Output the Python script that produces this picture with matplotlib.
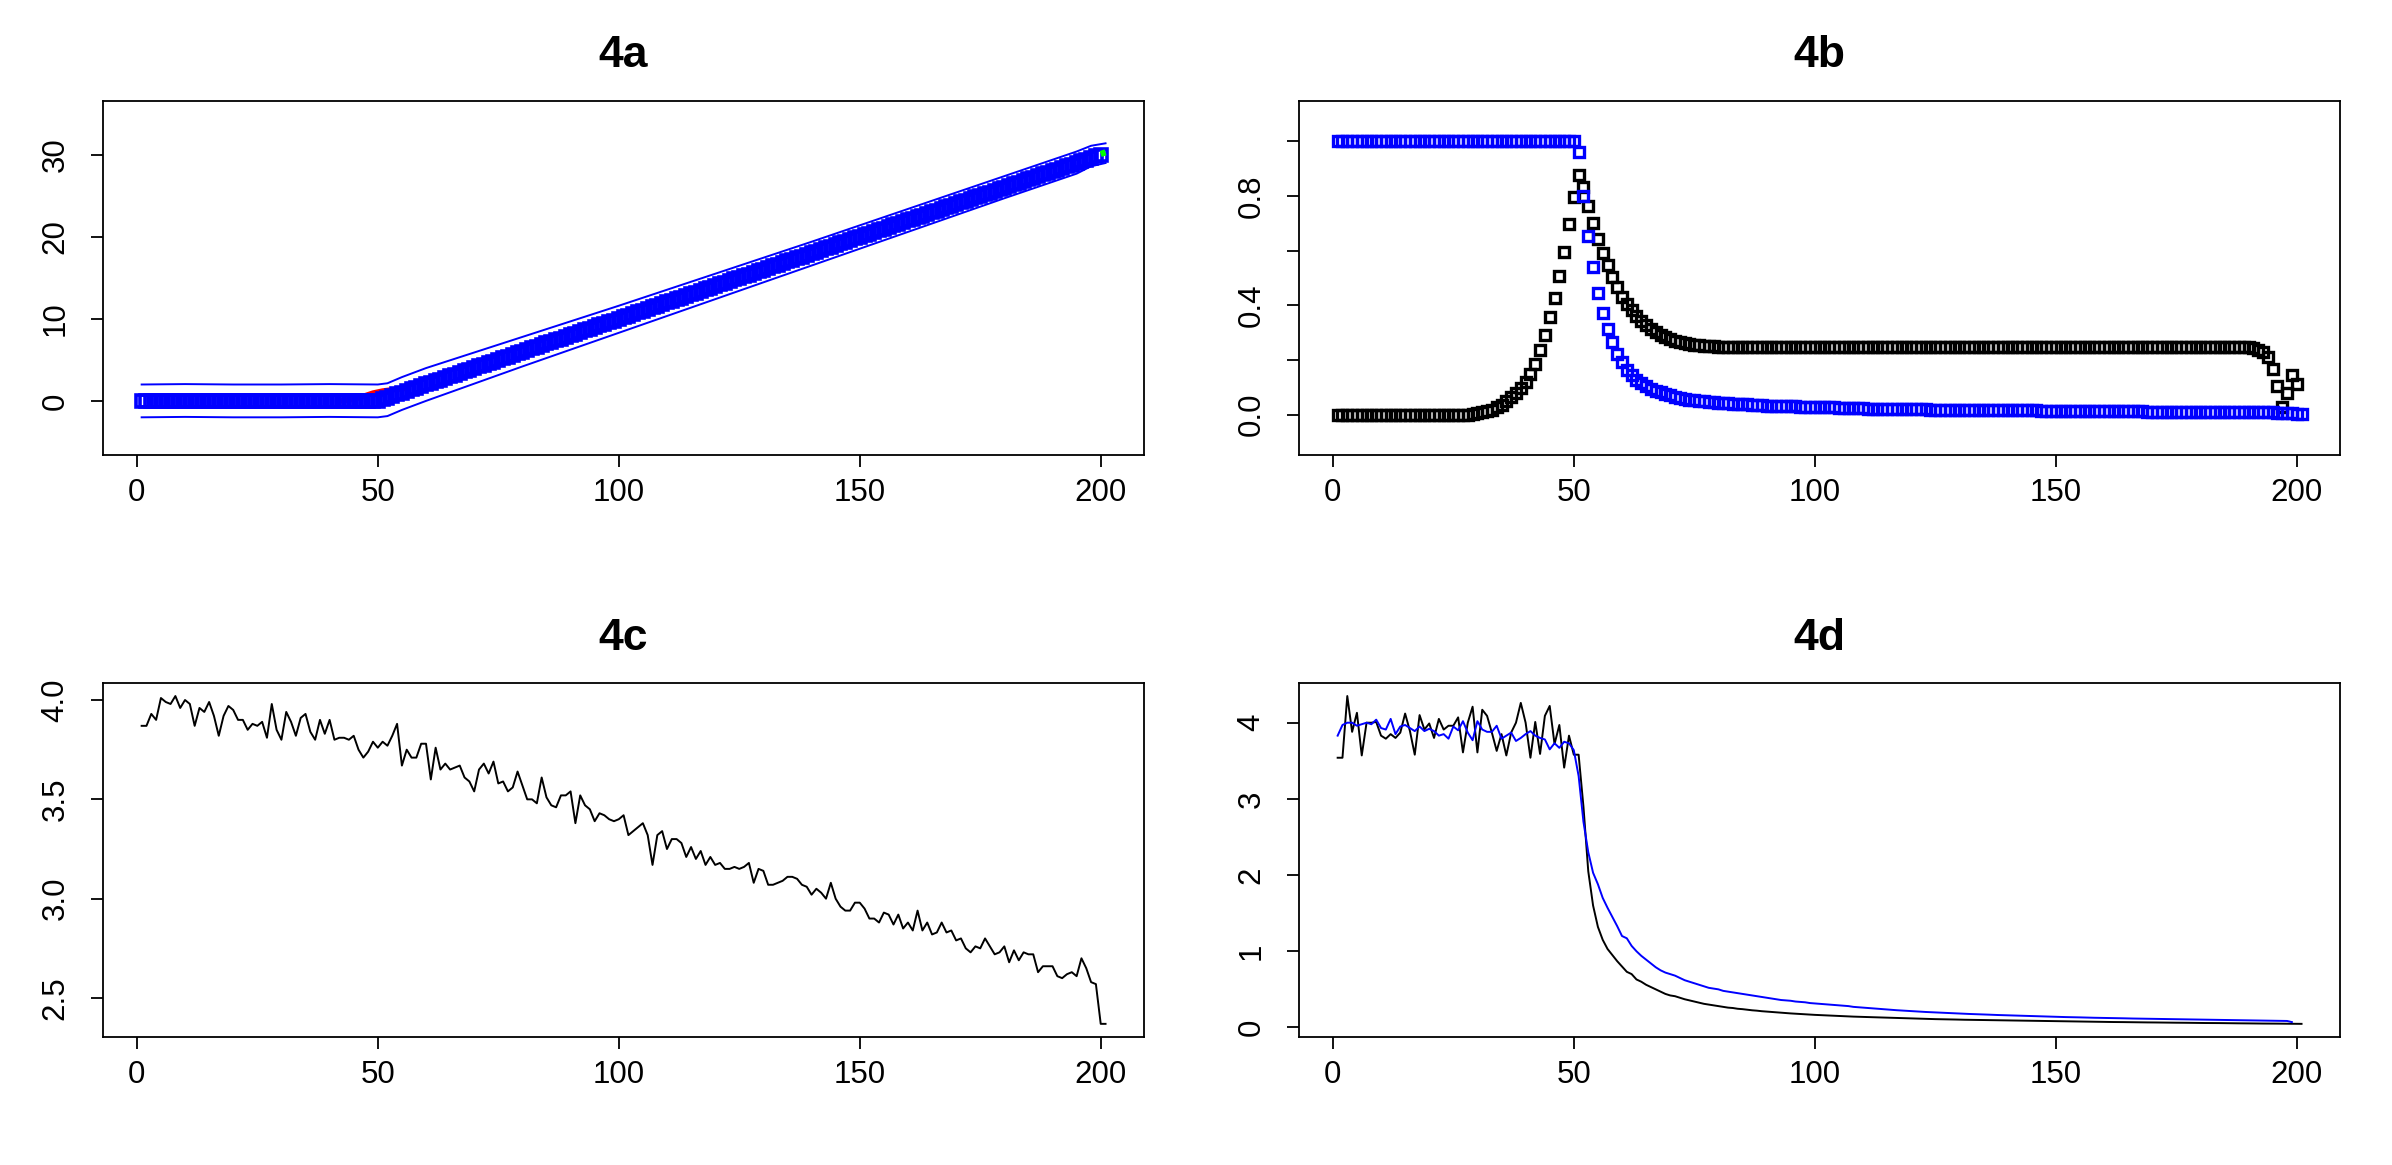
import numpy as np
import matplotlib.pyplot as plt

plt.rcParams['font.family'] = ['Liberation Sans', 'DejaVu Sans']

# ---------------- data ----------------
# 4a: fitted points (x = 1..200), the band around them, true curve near the bend, last point
a_fit = [
    0.0, 0.0, 0.0, 0.0, 0.0, 0.0, 0.0, 0.0, 0.0, 0.0,
    0.0, 0.0, 0.0, 0.0, 0.0, 0.0, 0.0, 0.0, 0.0, 0.0,
    0.0, 0.0, 0.0, 0.0, 0.0, 0.0, 0.0, 0.0, 0.0, 0.0,
    0.0, 0.0, 0.0, 0.0, 0.0, 0.0, 0.0, 0.0, 0.0, 0.0,
    0.0, 0.0, 0.0, 0.0, 0.0, 0.0, 0.0, 0.0, 0.0, 0.0,
    0.2, 0.4, 0.6, 0.8, 1.0, 1.2, 1.4, 1.6, 1.8, 2.0,
    2.2, 2.4, 2.6, 2.8, 3.0, 3.2, 3.4, 3.6, 3.8, 4.0,
    4.2, 4.4, 4.6, 4.8, 5.0, 5.2, 5.4, 5.6, 5.8, 6.0,
    6.2, 6.4, 6.6, 6.8, 7.0, 7.2, 7.4, 7.6, 7.8, 8.0,
    8.2, 8.4, 8.6, 8.8, 9.0, 9.2, 9.4, 9.6, 9.8, 10.0,
    10.2, 10.4, 10.6, 10.8, 11.0, 11.2, 11.4, 11.6, 11.8, 12.0,
    12.2, 12.4, 12.6, 12.8, 13.0, 13.2, 13.4, 13.6, 13.8, 14.0,
    14.2, 14.4, 14.6, 14.8, 15.0, 15.2, 15.4, 15.6, 15.8, 16.0,
    16.2, 16.4, 16.6, 16.8, 17.0, 17.2, 17.4, 17.6, 17.8, 18.0,
    18.2, 18.4, 18.6, 18.8, 19.0, 19.2, 19.4, 19.6, 19.8, 20.0,
    20.2, 20.4, 20.6, 20.8, 21.0, 21.2, 21.4, 21.6, 21.8, 22.0,
    22.2, 22.4, 22.6, 22.8, 23.0, 23.2, 23.4, 23.6, 23.8, 24.0,
    24.2, 24.4, 24.6, 24.8, 25.0, 25.2, 25.4, 25.6, 25.8, 26.0,
    26.2, 26.4, 26.6, 26.8, 27.0, 27.2, 27.4, 27.6, 27.8, 28.0,
    28.2, 28.4, 28.6, 28.8, 29.0, 29.2, 29.4, 29.6, 29.8, 30.0,
]
a_band_x = [1, 10, 20, 30, 40, 50, 52, 55, 60, 80, 100, 120, 140, 160, 180, 195, 198, 201]
a_upper = [2.0, 2.05, 2.0, 2.0, 2.05, 2.0, 2.15, 2.9, 4.0, 7.8, 11.6, 15.5, 19.4, 23.4, 27.4, 30.4, 31.1, 31.4]
a_lower = [-2.0, -1.95, -2.0, -2.0, -1.95, -2.0, -1.85, -1.1, 0.0, 4.2, 8.3, 12.4, 16.5, 20.6, 24.7, 27.7, 28.6, 29.0]
a_true_x = [42, 45, 47, 49, 51, 53, 56]
a_true_y = [0.0, 0.2, 0.55, 0.95, 1.2, 1.35, 1.55]
a_last_x = [200, 201]
a_last_y = [30.1, 30.3]

# 4b: two probability series
b_black = [
    0.0, 0.0, 0.0, 0.0, 0.0, 0.0, 0.0, 0.0, 0.0, 0.0,
    0.0, 0.0, 0.0, 0.0, 0.0, 0.0, 0.0, 0.0, 0.0, 0.0,
    0.0, 0.0, 0.0, 0.0, 0.0, 0.0, 0.0, 0.0,
    0.003, 0.005, 0.008, 0.012, 0.018, 0.026, 0.036, 0.048, 0.064, 0.08,
    0.098, 0.119, 0.149, 0.186, 0.235, 0.29, 0.357, 0.428, 0.506, 0.596,
    0.696, 0.797, 0.877,
    0.834, 0.763, 0.70, 0.641, 0.59, 0.547, 0.504, 0.467, 0.43,
    0.405, 0.382, 0.362, 0.344, 0.328, 0.314, 0.302, 0.292, 0.283, 0.276,
    0.27, 0.265, 0.261, 0.258, 0.255, 0.253, 0.251, 0.25, 0.249, 0.248,
    0.247, 0.247, 0.247, 0.247, 0.247, 0.247, 0.247, 0.247, 0.247, 0.247,
    0.247, 0.247, 0.247, 0.247, 0.247, 0.247, 0.247, 0.247, 0.247, 0.247,
    0.247, 0.247, 0.247, 0.247, 0.247, 0.247, 0.247, 0.247, 0.247, 0.247,
    0.247, 0.247, 0.247, 0.247, 0.247, 0.247, 0.247, 0.247, 0.247, 0.247,
    0.247, 0.247, 0.247, 0.247, 0.247, 0.247, 0.247, 0.247, 0.247, 0.247,
    0.247, 0.247, 0.247, 0.247, 0.247, 0.247, 0.247, 0.247, 0.247, 0.247,
    0.247, 0.247, 0.247, 0.247, 0.247, 0.247, 0.247, 0.247, 0.247, 0.247,
    0.247, 0.247, 0.247, 0.247, 0.247, 0.247, 0.247, 0.247, 0.247, 0.247,
    0.247, 0.247, 0.247, 0.247, 0.247, 0.247, 0.247, 0.247, 0.247, 0.247,
    0.247, 0.247, 0.247, 0.247, 0.247, 0.247, 0.247, 0.247, 0.247, 0.247,
    0.247, 0.247, 0.247, 0.247, 0.247, 0.247, 0.247, 0.247, 0.247, 0.247,
    0.242, 0.235, 0.229, 0.21, 0.168, 0.106, 0.027, 0.078, 0.143, 0.113,
]
b_blue = [
    1.0, 1.0, 1.0, 1.0, 1.0, 1.0, 1.0, 1.0, 1.0, 1.0,
    1.0, 1.0, 1.0, 1.0, 1.0, 1.0, 1.0, 1.0, 1.0, 1.0,
    1.0, 1.0, 1.0, 1.0, 1.0, 1.0, 1.0, 1.0, 1.0, 1.0,
    1.0, 1.0, 1.0, 1.0, 1.0, 1.0, 1.0, 1.0, 1.0, 1.0,
    1.0, 1.0, 1.0, 1.0, 1.0, 1.0, 1.0, 1.0, 1.0, 1.0,
    0.959, 0.798, 0.654, 0.538, 0.443, 0.372, 0.314, 0.265, 0.223, 0.192,
    0.164, 0.145, 0.128, 0.115, 0.104, 0.095, 0.088, 0.081, 0.075, 0.07,
    0.066, 0.062, 0.058, 0.055, 0.052, 0.05, 0.048, 0.046, 0.045, 0.043,
    0.042, 0.041, 0.04, 0.039, 0.038, 0.037, 0.036, 0.035, 0.034, 0.033,
    0.032, 0.032, 0.031, 0.031, 0.03, 0.03, 0.029, 0.029, 0.028, 0.028,
    0.027, 0.027, 0.026, 0.026, 0.025, 0.025, 0.024, 0.024, 0.023, 0.023,
    0.022, 0.022, 0.021, 0.021, 0.021, 0.020, 0.020, 0.020, 0.020, 0.019,
    0.019, 0.019, 0.019, 0.018, 0.018, 0.018, 0.018, 0.018, 0.017, 0.017,
    0.017, 0.017, 0.017, 0.016, 0.016, 0.016, 0.016, 0.016, 0.016, 0.015,
    0.015, 0.015, 0.015, 0.015, 0.015, 0.015, 0.014, 0.014, 0.014, 0.014,
    0.014, 0.014, 0.014, 0.013, 0.013, 0.013, 0.013, 0.013, 0.013, 0.013,
    0.012, 0.012, 0.012, 0.012, 0.012, 0.012, 0.012, 0.012, 0.011, 0.011,
    0.011, 0.011, 0.011, 0.011, 0.011, 0.011, 0.011, 0.010, 0.010, 0.010,
    0.010, 0.010, 0.010, 0.010, 0.010, 0.010, 0.010, 0.009, 0.009, 0.009,
    0.009, 0.009, 0.009, 0.008, 0.008, 0.007, 0.006, 0.005, 0.004, 0.003,
    0.003,
]

# 4c: one noisy series, x = 1..201
c_vals = [
    3.87, 3.87, 3.93, 3.90, 4.01, 3.99, 3.98, 4.02, 3.96, 4.00,
    3.98, 3.87, 3.96, 3.94, 3.99, 3.92, 3.82, 3.92, 3.97, 3.95,
    3.90, 3.90, 3.85, 3.88, 3.87, 3.89, 3.81, 3.98, 3.85, 3.80,
    3.94, 3.89, 3.82, 3.91, 3.93, 3.84, 3.80, 3.90, 3.83, 3.90,
    3.80, 3.81, 3.81, 3.80, 3.82, 3.75, 3.71, 3.74, 3.79, 3.76,
    3.79, 3.77, 3.82, 3.88, 3.67, 3.75, 3.71, 3.71, 3.78, 3.78,
    3.60, 3.76, 3.65, 3.68, 3.65, 3.66, 3.67, 3.61, 3.59, 3.54,
    3.65, 3.68, 3.63, 3.69, 3.58, 3.59, 3.54, 3.56, 3.64, 3.57,
    3.50, 3.50, 3.48, 3.61, 3.51, 3.47, 3.46, 3.52, 3.52, 3.54,
    3.38, 3.52, 3.47, 3.45, 3.39, 3.43, 3.42, 3.40, 3.39, 3.40,
    3.42, 3.32, 3.34, 3.36, 3.38, 3.32, 3.17, 3.32, 3.34, 3.25,
    3.30, 3.30, 3.28, 3.21, 3.26, 3.20, 3.24, 3.17, 3.21, 3.17,
    3.18, 3.15, 3.15, 3.16, 3.15, 3.16, 3.18, 3.08, 3.15, 3.14,
    3.07, 3.07, 3.08, 3.09, 3.11, 3.11, 3.10, 3.07, 3.06, 3.02,
    3.05, 3.03, 3.00, 3.08, 3.00, 2.96, 2.94, 2.94, 2.98, 2.98,
    2.95, 2.90, 2.90, 2.88, 2.93, 2.92, 2.87, 2.92, 2.85, 2.88,
    2.84, 2.94, 2.84, 2.88, 2.82, 2.83, 2.88, 2.83, 2.84, 2.79,
    2.80, 2.75, 2.73, 2.76, 2.75, 2.80, 2.76, 2.72, 2.73, 2.76,
    2.68, 2.74, 2.69, 2.73, 2.72, 2.72, 2.63, 2.66, 2.66, 2.66,
    2.61, 2.60, 2.62, 2.63, 2.61, 2.70, 2.65, 2.58, 2.57, 2.37,
    2.37,
]

# 4d: black series (x = 1..201) and blue series (x = 1..199)
d_black = [
    3.54, 3.54, 4.35, 3.88, 4.13, 3.57, 4.00, 4.00, 4.01, 3.83,
    3.79, 3.85, 3.80, 3.87, 4.12, 3.89, 3.58, 4.10, 3.91, 3.99,
    3.80, 4.05, 3.91, 3.96, 3.96, 4.07, 3.61, 4.00, 4.21, 3.61,
    4.17, 4.09, 3.87, 3.63, 3.85, 3.57, 3.87, 4.00, 4.26, 4.00,
    3.54, 4.01, 3.59, 4.09, 4.22, 3.72, 3.97, 3.41, 3.83, 3.58,
    3.58, 2.90, 2.05, 1.60, 1.32, 1.15, 1.03, 0.95, 0.87, 0.80,
    0.73, 0.70, 0.63, 0.60, 0.56, 0.53, 0.50, 0.47, 0.44, 0.42,
    0.41, 0.39, 0.37, 0.355, 0.34, 0.325, 0.31, 0.30, 0.29, 0.28,
    0.27, 0.26, 0.255, 0.245, 0.24, 0.232, 0.225, 0.22, 0.213, 0.208,
    0.203, 0.198, 0.193, 0.188, 0.184, 0.18, 0.176, 0.172, 0.169, 0.165,
    0.162, 0.159, 0.156, 0.153, 0.15, 0.147, 0.145, 0.142, 0.14, 0.137,
    0.135, 0.133, 0.131, 0.129, 0.127, 0.125, 0.123, 0.121, 0.119, 0.117,
    0.115, 0.114, 0.112, 0.111, 0.109, 0.108, 0.106, 0.105, 0.104, 0.102,
    0.101, 0.1, 0.099, 0.097, 0.096, 0.095, 0.094, 0.093, 0.092, 0.091,
    0.09, 0.089, 0.088, 0.087, 0.086, 0.085, 0.084, 0.083, 0.082, 0.081,
    0.08, 0.079, 0.078, 0.078, 0.077, 0.076, 0.075, 0.074, 0.074, 0.073,
    0.072, 0.071, 0.071, 0.07, 0.069, 0.068, 0.068, 0.067, 0.066, 0.066,
    0.065, 0.064, 0.064, 0.063, 0.062, 0.062, 0.061, 0.06, 0.06, 0.059,
    0.058, 0.058, 0.057, 0.057, 0.056, 0.055, 0.055, 0.054, 0.054, 0.053,
    0.052, 0.052, 0.051, 0.051, 0.05, 0.05, 0.049, 0.049, 0.048, 0.048,
    0.047,
]
d_blue = [
    3.83, 3.97, 4.00, 4.00, 3.96, 3.98, 4.00, 3.98, 4.04, 3.93,
    3.91, 4.05, 3.85, 3.95, 3.97, 3.93, 3.89, 3.95, 3.89, 3.92,
    3.89, 3.83, 3.85, 3.79, 3.95, 3.90, 4.02, 3.87, 3.77, 4.02,
    3.91, 3.88, 3.88, 3.96, 3.79, 3.83, 3.87, 3.76, 3.80, 3.85,
    3.89, 3.83, 3.80, 3.78, 3.65, 3.73, 3.67, 3.75, 3.73, 3.64,
    3.30, 2.70, 2.30, 2.03, 1.88, 1.70, 1.57, 1.45, 1.33, 1.20,
    1.17, 1.07, 1.00, 0.94, 0.89, 0.84, 0.79, 0.75, 0.72, 0.70,
    0.68, 0.65, 0.62, 0.60, 0.58, 0.56, 0.54, 0.52, 0.51, 0.50,
    0.48, 0.47, 0.46, 0.45, 0.44, 0.43, 0.42, 0.41, 0.40, 0.39,
    0.38, 0.37, 0.36, 0.355, 0.35, 0.34, 0.335, 0.33, 0.32, 0.315,
    0.31, 0.305, 0.30, 0.295, 0.29, 0.285, 0.28, 0.27, 0.265, 0.26,
    0.255, 0.25, 0.245, 0.24, 0.235, 0.23, 0.226, 0.222, 0.218, 0.214,
    0.21, 0.206, 0.203, 0.2, 0.197, 0.194, 0.191, 0.188, 0.185, 0.182,
    0.18, 0.177, 0.175, 0.172, 0.17, 0.168, 0.165, 0.163, 0.161, 0.159,
    0.157, 0.155, 0.153, 0.151, 0.149, 0.147, 0.145, 0.143, 0.141, 0.14,
    0.138, 0.136, 0.135, 0.133, 0.132, 0.13, 0.129, 0.127, 0.126, 0.125,
    0.123, 0.122, 0.121, 0.12, 0.118, 0.117, 0.116, 0.115, 0.114, 0.113,
    0.112, 0.111, 0.11, 0.109, 0.108, 0.107, 0.106, 0.105, 0.104, 0.103,
    0.102, 0.101, 0.1, 0.099, 0.098, 0.097, 0.096, 0.095, 0.094, 0.093,
    0.092, 0.091, 0.09, 0.089, 0.088, 0.087, 0.086, 0.085, 0.07,
]

x_ticks = [0, 50, 100, 150, 200]


def idx(vals):
    # x runs 1, 2, 3, ... like R's index plot
    return np.arange(1, len(vals) + 1)


def r_range(lo, hi):
    # R pads the axis range by 4% on each side
    d = (hi - lo) * 0.04
    return lo - d, hi + d


def r_axes(ax, title, yticks, ylabels):
    ax.set_title(title, fontsize=32, fontweight='bold', pad=24)
    ax.set_xlim(r_range(1, 201))
    ax.set_xticks(x_ticks)
    ax.set_xticklabels([str(t) for t in x_ticks])
    ax.set_yticks(yticks)
    ax.set_yticklabels(ylabels, rotation=90, va='center')
    ax.tick_params(direction='out', length=8.6, width=1.3, labelsize=22.5)
    ax.tick_params(axis='x', pad=8)
    ax.tick_params(axis='y', pad=15)
    for s in ax.spines.values():
        s.set_linewidth(1.3)


fig = plt.figure(figsize=(23.92, 11.65), dpi=100)
ax_a = fig.add_axes([0.0431, 0.6094, 0.4352, 0.3042])
ax_b = fig.add_axes([0.5431, 0.6094, 0.4352, 0.3042])
ax_c = fig.add_axes([0.0431, 0.1099, 0.4352, 0.3039])
ax_d = fig.add_axes([0.5431, 0.1099, 0.4352, 0.3039])

# 4a
ax_a.plot(a_band_x, a_upper, color='blue', lw=1.4)
ax_a.plot(a_band_x, a_lower, color='blue', lw=1.4)
ax_a.plot(a_true_x, a_true_y, color='red', lw=4)
ax_a.plot(idx(a_fit), a_fit, 's', mfc='none', mec='blue', ms=8.5, mew=2.6)
ax_a.plot(a_last_x, a_last_y, color='#00ff00', lw=4.5, solid_capstyle='butt')
ax_a.set_ylim(r_range(-5, 35))
r_axes(ax_a, '4a', [0, 10, 20, 30], ['0', '10', '20', '30'])

# 4b
ax_b.plot(idx(b_black), b_black, 's', mfc='none', mec='black', ms=7.5, mew=2.4)
ax_b.plot(idx(b_blue), b_blue, 's', mfc='none', mec='blue', ms=7.5, mew=2.4)
ax_b.set_ylim(r_range(-0.1, 1.1))
r_axes(ax_b, '4b', [0.0, 0.2, 0.4, 0.6, 0.8, 1.0], ['0.0', '', '0.4', '', '0.8', ''])

# 4c
ax_c.plot(idx(c_vals), c_vals, color='black', lw=1.4)
ax_c.set_ylim(r_range(min(c_vals), max(c_vals)))
r_axes(ax_c, '4c', [2.5, 3.0, 3.5, 4.0], ['2.5', '3.0', '3.5', '4.0'])

# 4d
ax_d.plot(idx(d_black), d_black, color='black', lw=1.4)
ax_d.plot(idx(d_blue), d_blue, color='blue', lw=1.4)
ax_d.set_ylim(r_range(min(d_black + d_blue), max(d_black + d_blue)))
r_axes(ax_d, '4d', [0, 1, 2, 3, 4], ['0', '1', '2', '3', '4'])

fig.savefig('out.png', dpi=100)
